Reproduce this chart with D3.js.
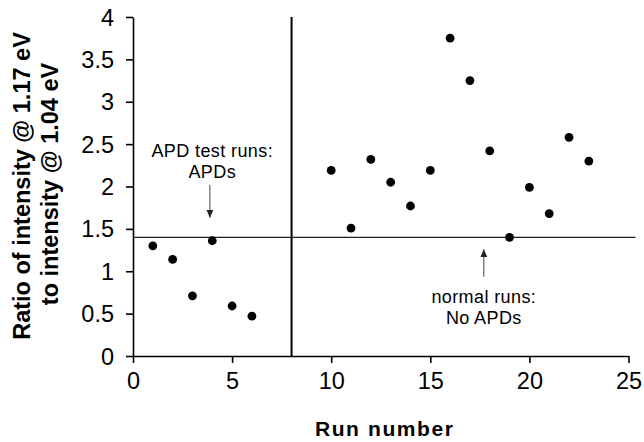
<!DOCTYPE html>
<html>
<head>
<meta charset="utf-8">
<script src="https://cdn.jsdelivr.net/npm/d3@7"></script>
<style>
  body { margin: 0; background: #fff; }
  text { font-family: Arial, "Liberation Sans", sans-serif; fill: #000; }
</style>
</head>
<body>
<svg id="chart" width="644" height="442"></svg>
<script>
// Run number and measured intensity ratio for each run
const runs   = [1, 2, 3, 4, 5, 6, 10, 11, 12, 13, 14, 15, 16, 17, 18, 19, 20, 21, 22, 23];
const ratios = [1.30, 1.14, 0.71, 1.36, 0.59, 0.47, 2.19, 1.51, 2.32, 2.05, 1.77, 2.19, 3.75, 3.25, 2.42, 1.40, 1.99, 1.68, 2.58, 2.30];

// Axis ticks
const xTicks = [0, 5, 10, 15, 20, 25];
const yTicks = [0, 0.5, 1, 1.5, 2, 2.5, 3, 3.5, 4];
const yTickLabels = ["0", "0.5", "1", "1.5", "2", "2.5", "3", "3.5", "4"];

// Reference lines: threshold ratio and the divider between test and normal runs
const thresholdRatio = 1.4;
const thresholdExtent = [0, 25.35];
const dividerRun = 8;

// Annotation texts
const apdLines = ["APD test runs:", "APDs"];
const normalLines = ["normal runs:", "No APDs"];

const svg = d3.select("#chart");
const x = d3.scaleLinear().domain([0, 25]).range([133, 628.5]);
const y = d3.scaleLinear().domain([0, 4]).range([356, 17]);

const tickFont = "23.5px";

// Y axis
const yAxis = svg.append("g")
  .attr("transform", `translate(${x(0)},0)`)
  .call(d3.axisLeft(y).tickValues(yTicks).tickSize(7).tickSizeOuter(0).tickPadding(12)
    .tickFormat((d, i) => yTickLabels[i]));
yAxis.selectAll("path, line").attr("stroke", "#000").attr("stroke-width", 1.6);
yAxis.selectAll("text").style("font-size", tickFont).attr("dy", "0.34em");

// X axis
const xAxis = svg.append("g")
  .attr("transform", `translate(0,${y(0)})`)
  .call(d3.axisBottom(x).tickValues(xTicks).tickSize(7).tickSizeOuter(0).tickPadding(9)
    .tickFormat(d3.format("d")));
xAxis.selectAll("path, line").attr("stroke", "#000").attr("stroke-width", 1.6);
xAxis.selectAll("text").style("font-size", tickFont);

// Threshold line
svg.append("line")
  .attr("x1", x(thresholdExtent[0])).attr("x2", x(thresholdExtent[1]))
  .attr("y1", y(thresholdRatio)).attr("y2", y(thresholdRatio))
  .attr("stroke", "#222").attr("stroke-width", 1.4);

// Divider line
svg.append("line")
  .attr("x1", x(dividerRun)).attr("x2", x(dividerRun))
  .attr("y1", y(0)).attr("y2", y(4))
  .attr("stroke", "#000").attr("stroke-width", 2);

// Data points
svg.append("g").selectAll("circle")
  .data(runs.map((r, i) => ({ run: r, ratio: ratios[i] })))
  .join("circle")
  .attr("cx", d => x(d.run))
  .attr("cy", d => y(d.ratio))
  .attr("r", 4.4)
  .attr("fill", "#000");

// Arrow marker
svg.append("defs").append("marker")
  .attr("id", "arrowhead")
  .attr("viewBox", "0 0 8 8")
  .attr("refX", 8).attr("refY", 4)
  .attr("markerWidth", 8).attr("markerHeight", 8)
  .attr("markerUnits", "userSpaceOnUse")
  .attr("orient", "auto")
  .append("path").attr("d", "M0,0.5 L8,4 L0,7.5 Z").attr("fill", "#222");

function arrow(xv, yFrom, yTo) {
  svg.append("line")
    .attr("x1", x(xv)).attr("x2", x(xv))
    .attr("y1", y(yFrom)).attr("y2", y(yTo))
    .attr("stroke", "#444").attr("stroke-width", 1)
    .attr("marker-end", "url(#arrowhead)");
}

function note(lines, xv, yFirst, yStep) {
  lines.forEach((t, i) => {
    svg.append("text")
      .attr("x", x(xv))
      .attr("y", y(yFirst) + i * yStep)
      .attr("text-anchor", "middle")
      .style("font-size", "18px")
      .style("letter-spacing", "0.4px")
      .text(t);
  });
}

note(apdLines, 4.0, 2.35, 21);
arrow(3.88, 2.02, 1.63);

note(normalLines, 17.7, 0.63, 21.5);
arrow(17.7, 0.935, 1.26);

// Axis titles
svg.append("text")
  .attr("x", (x(0) + x(25)) / 2 + 4)
  .attr("y", 436)
  .attr("text-anchor", "middle")
  .style("font-size", "21px")
  .style("font-weight", "bold")
  .style("letter-spacing", "1.6px")
  .text("Run number");

const yTitle = svg.append("text")
  .attr("transform", "translate(0,186) rotate(-90)")
  .attr("text-anchor", "middle")
  .style("font-size", "23.5px")
  .style("font-weight", "bold");
yTitle.append("tspan").attr("x", 0).attr("y", 30).text("Ratio of intensity @ 1.17 eV");
yTitle.append("tspan").attr("x", 2).attr("y", 57.5).text("to intensity @ 1.04 eV");
</script>
</body>
</html>
